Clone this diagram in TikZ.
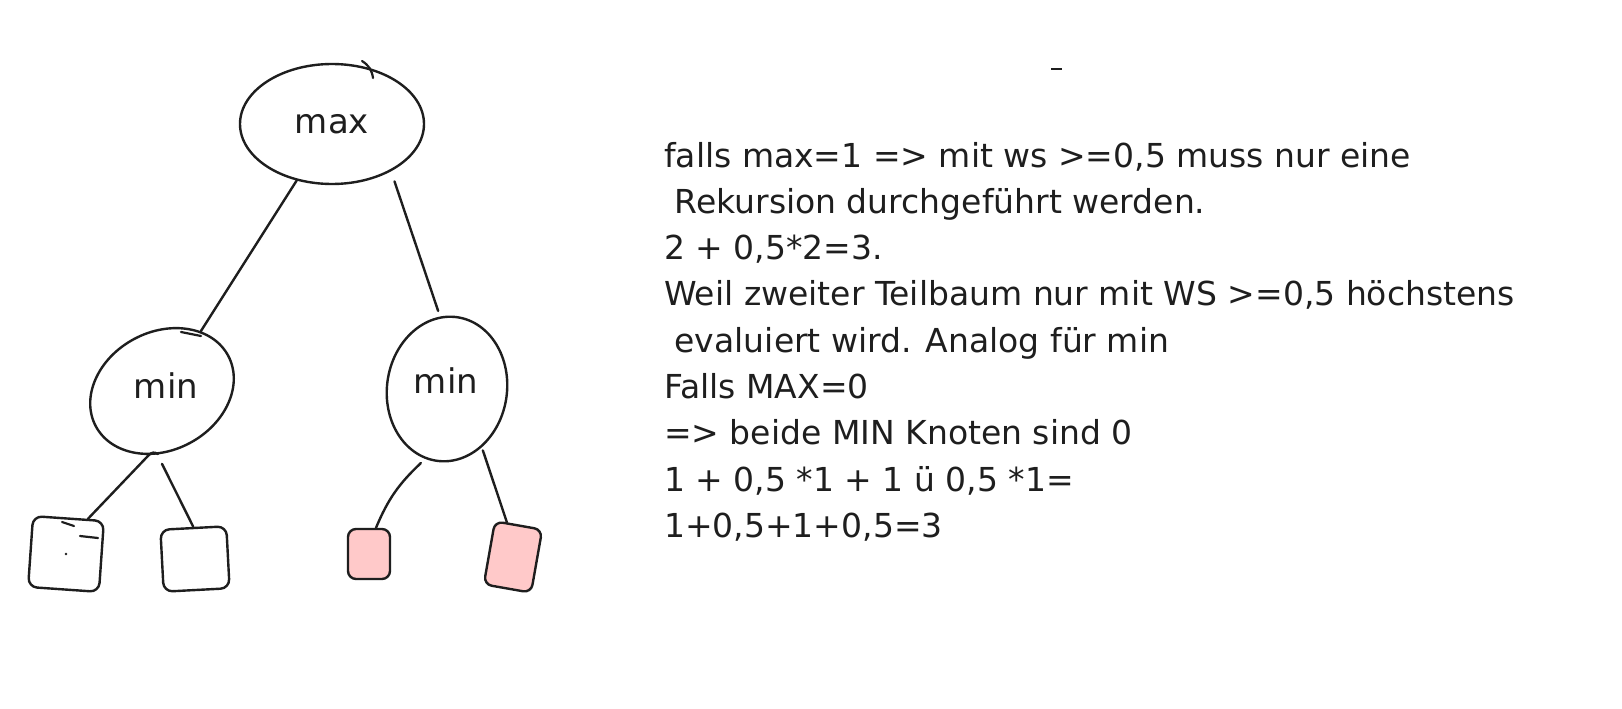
\documentclass[tikz,border=0pt]{standalone}
\usepackage{fontspec}
\setmainfont{DejaVu Sans}
\usetikzlibrary{shapes.geometric}
\definecolor{ink}{HTML}{1E1E1E}
\definecolor{pinkfill}{HTML}{FFC9C9}
\begin{document}
\begin{tikzpicture}[x=1pt,y=1pt,
  stroke/.style={draw=ink,line width=2.4pt,line cap=round,line join=round},
  treenode/.style={stroke,ellipse,inner sep=0pt,font=\fontsize{34}{34}\selectfont,text=ink},
  nodelabel/.style={font=\fontsize{34}{34}\selectfont,text=ink},
  leaf/.style={stroke,rectangle,rounded corners=9pt,inner sep=0pt},
  redleaf/.style={leaf,fill=pinkfill},
  edge/.style={stroke},
  tick/.style={draw=ink,line width=2.2pt,line cap=round}]
\useasboundingbox (0,0) rectangle (1622,-709);
\fill[white] (0,0) rectangle (1622,-709);
% tree nodes
\node[treenode,minimum width=184pt,minimum height=120pt] (max) at (332,-124) {max};
\node[treenode,minimum width=150pt,minimum height=118pt,rotate=28] (minL) at (162,-391) {};
\node[nodelabel] (minLt) at (166,-386) {min};
\node[treenode,minimum width=120pt,minimum height=145pt,rotate=-8] (minR) at (447,-389) {};
\node[nodelabel] (minRt) at (446,-381) {min};
% leaves
\node[leaf,minimum width=71pt,minimum height=71pt,rotate=-4] (l1) at (66,-554) {};
\node[leaf,minimum width=66pt,minimum height=62pt,rotate=3] (l2) at (195,-559) {};
\node[redleaf,minimum width=42pt,minimum height=50pt,rounded corners=8pt] (l3) at (369,-554) {};
\node[redleaf,minimum width=48pt,minimum height=64pt,rounded corners=8pt,rotate=-10] (l4) at (513,-557) {};
\fill[ink] (l1.center) circle (1.4pt);
% edges
\draw[edge] (max.-122) -- (minL.29);
\draw[edge] ([yshift=-12pt]max.-36) -- ([yshift=6pt]minR.105);
\draw[edge] (l1.62) -- ([shift={(4pt,0pt)}]minL.-133) .. controls +(3pt,3pt) and +(-3pt,2pt) .. +(9pt,1pt);
\draw[edge] ([yshift=-10pt]minL.-118) -- (l2.north);
\draw[edge] ([yshift=-6pt]minR.-103) to[bend right=12] (l3.75);
\draw[edge] ([yshift=-4pt]minR.-50) -- (l4.110);
% small overlapping hand strokes
\coordinate (h1a) at (62,-522);
\coordinate (h1b) at (74,-526);
\coordinate (h2a) at (80,-536);
\coordinate (h2b) at (98,-538);
\draw[tick] (h1a) -- (h1b);
\draw[tick] (h2a) -- (h2b);
\coordinate (h3a) at (362,-61);
\coordinate (h3b) at (373,-78);
\draw[tick] (h3a) to[bend left=25] (h3b);
\coordinate (h4a) at (181,-332);
\coordinate (h4b) at (201,-336);
\draw[tick] (h4a) -- (h4b);
% small stray dash
\coordinate (d1) at (1051,-69);
\coordinate (d2) at (1062,-69);
\draw[ink,line width=1.2pt] (d1) -- (d2);
% text
\node[anchor=base west,align=left,text=ink,inner sep=0pt,
      font=\fontsize{33}{46.3}\selectfont] (txt) at (664,-537.4) {%
falls max=1 => mit ws >=0,5 muss nur eine\\
\ Rekursion durchgeführt werden.\\
2 + 0,5*2=3.\\
Weil zweiter Teilbaum nur mit WS >=0,5 höchstens\\
\ evaluiert wird. Analog für min\\
Falls MAX=0\\
=> beide MIN Knoten sind 0\\
1 + 0,5 *1 + 1 ü 0,5 *1=\\
1+0,5+1+0,5=3};
\end{tikzpicture}
\end{document}
